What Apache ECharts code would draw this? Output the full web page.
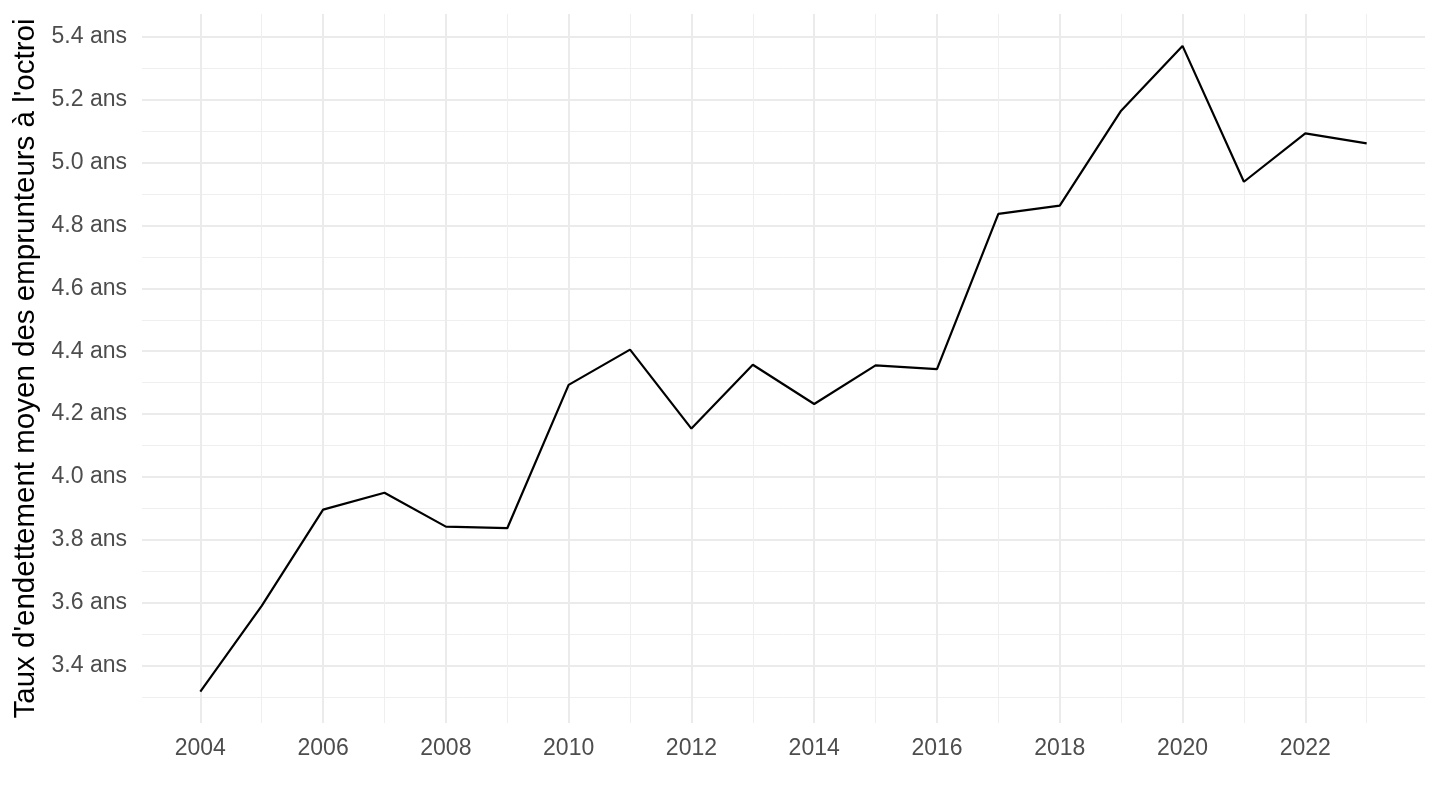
<!DOCTYPE html>
<html>
<head>
<meta charset="utf-8">
<script src="https://cdn.jsdelivr.net/npm/echarts@6/dist/echarts.min.js"></script>
<style>html,body{margin:0;padding:0;background:#fff}#c{width:1440px;height:810px}</style>
</head>
<body>
<div id="c"></div>
<script>
const years = [2004,2005,2006,2007,2008,2009,2010,2011,2012,2013,2014,2015,2016,2017,2018,2019,2020,2021,2022,2023];
const values = [3.317,3.590,3.896,3.950,3.842,3.837,4.293,4.405,4.154,4.357,4.232,4.355,4.343,4.837,4.863,5.165,5.371,4.939,5.093,5.061];
const yMajorTicks = [3.4,3.6,3.8,4.0,4.2,4.4,4.6,4.8,5.0,5.2,5.4];
const yMinorTicks = [3.3,3.5,3.7,3.9,4.1,4.3,4.5,4.7,4.9,5.1,5.3];
const xMajorTicks = [2004,2006,2008,2010,2012,2014,2016,2018,2020,2022];
const xMinorTicks = [2005,2007,2009,2011,2013,2015,2017,2019,2021,2023];
const yTitle = "Taux d'endettement moyen des emprunteurs à l'octroi";

const yMin = 3.2175, yMax = 5.4725, xMin = 2003.05, xMax = 2023.95;
const font = "'Liberation Sans', Arial, Helvetica, sans-serif";

const chart = echarts.init(document.getElementById('c'), null, {renderer:'canvas'});
chart.setOption({
  animation: false,
  backgroundColor: '#ffffff',
  grid: {left: 142, right: 15, top: 14, bottom: 87, containLabel: false},
  xAxis: [
    {
      type: 'value', min: xMin, max: xMax,
      axisLine: {show: false}, axisTick: {show: false, customValues: xMajorTicks},
      axisLabel: {customValues: xMajorTicks, color: '#4D4D4D', fontSize: 23, fontFamily: font, margin: 14,
        formatter: v => String(Math.round(v))},
      splitLine: {show: true, lineStyle: {color: '#EBEBEB', width: 2}}
    },
    {
      type: 'value', min: xMin, max: xMax, position: 'bottom',
      axisLine: {show: false}, axisTick: {show: false, customValues: xMinorTicks},
      axisLabel: {show: false},
      splitLine: {show: true, lineStyle: {color: '#EFEFEF', width: 1}}
    }
  ],
  yAxis: [
    {
      type: 'value', min: yMin, max: yMax,
      axisLine: {show: false}, axisTick: {show: false, customValues: yMajorTicks},
      axisLabel: {customValues: yMajorTicks, color: '#4D4D4D', fontSize: 23, fontFamily: font, margin: 15,
        formatter: v => v.toFixed(1) + ' ans'},
      splitLine: {show: true, lineStyle: {color: '#EBEBEB', width: 2}},
      name: yTitle, nameLocation: 'middle', nameGap: 101, nameRotate: 90,
      nameTextStyle: {color: '#000000', fontSize: 29.5, fontFamily: font}
    },
    {
      type: 'value', min: yMin, max: yMax, position: 'left',
      axisLine: {show: false}, axisTick: {show: false, customValues: yMinorTicks},
      axisLabel: {show: false},
      splitLine: {show: true, lineStyle: {color: '#EFEFEF', width: 1}}
    }
  ],
  series: [{
    type: 'line',
    xAxisIndex: 0, yAxisIndex: 0,
    data: years.map((y, i) => [y, values[i]]),
    showSymbol: false, symbol: 'none',
    lineStyle: {color: '#000000', width: 2.2},
    z: 10
  }]
});
</script>
</body>
</html>
